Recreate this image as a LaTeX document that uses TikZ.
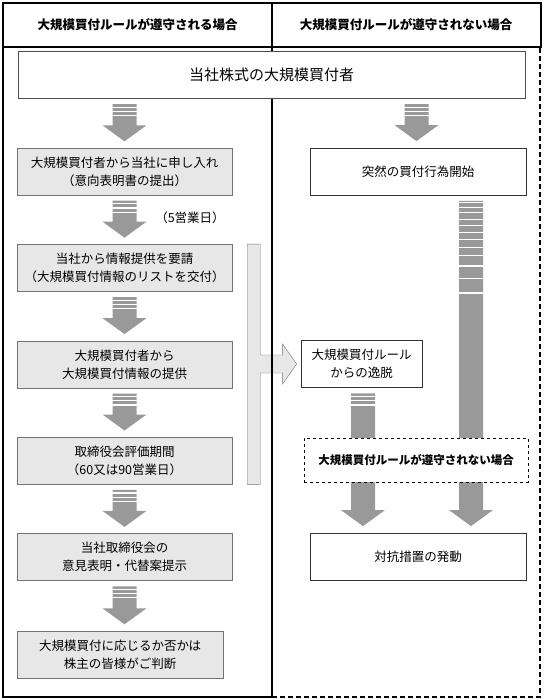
\documentclass[tikz,border=0pt]{standalone}
\usepackage{fontspec}
\setmainfont{Noto Sans CJK JP}
\usetikzlibrary{positioning,calc}

\definecolor{arrowgray}{RGB}{153,153,153}
\definecolor{boxgray}{RGB}{231,231,231}
\definecolor{linegray}{RGB}{115,115,115}

\pgfdeclarelayer{background}
\pgfsetlayers{background,main}

% striped block arrow: [xshift]{from}{to}{stripe offsets}
\newcommand{\fatarrow}[4][0]{%
  \coordinate (fa top) at ($(#3.north |- #2.south)+(#1pt,-5.5pt)$);
  \coordinate (fa tip) at ($(#3.north)+(#1pt,6.5pt)$);
  \fill[arrowgray] let \p1=(fa top), \p2=(fa tip) in
    (\x1-12pt,\y1) -- (\x1+12pt,\y1) -- (\x1+12pt,\y2+16pt) -- (\x1+22pt,\y2+16pt)
    -- (\p2) -- (\x1-22pt,\y2+16pt) -- (\x1-12pt,\y2+16pt) -- cycle;
  \foreach \s in {#4}
    \draw[white, line width=1.2pt] let \p1=(fa top) in
      (\x1-13pt,\y1-\s pt) -- (\x1+13pt,\y1-\s pt);
}

\begin{document}
\begin{tikzpicture}[x=1pt, y=-1pt,
    headcell/.style = {draw, line width=2pt, minimum width=269pt, minimum height=44pt,
      font=\fontsize{12.5}{15}\selectfont\bfseries},
    flowbox/.style = {draw=linegray, fill=boxgray, minimum width=215pt, minimum height=47pt,
      align=center, font=\fontsize{12.5}{18}\selectfont},
    outbox/.style = {draw=black!80, fill=white, thick, minimum height=47pt,
      align=center, font=\fontsize{12.5}{18}\selectfont},
    notbox/.style = {draw, dashed, fill=white, minimum width=224pt, minimum height=44pt,
      font=\fontsize{11.5}{14}\selectfont\bfseries},
    daynote/.style = {font=\fontsize{12.5}{15}\selectfont}
  ]
  \useasboundingbox (0,0) rectangle (543,700);

  % column headers
  \node[headcell] (head kept) at (137.5,25) {大規模買付ルールが遵守される場合};
  \node[headcell] (head broken) at (406,25) {大規模買付ルールが遵守されない場合};

  \node[draw=black!70, fill=white, minimum width=507pt, minimum height=47pt,
    font=\fontsize{15}{18}\selectfont] (title) at (271.5,75) {当社株式の大規模買付者};

  % rule kept
  \node[flowbox] (offer) at (124.5,171.5) {大規模買付者から当社に申し入れ\\（意向表明書の提出）};
  \node[flowbox, below=49pt of offer] (request) {当社から情報提供を要請\\（大規模買付情報のリストを交付）};
  \node[flowbox, below=49pt of request] (provide) {大規模買付者から\\大規模買付情報の提供};
  \node[flowbox, below=49pt of provide] (review) {取締役会評価期間\\（60又は90営業日）};
  \node[flowbox, below=49pt of review] (opinion) {当社取締役会の\\意見表明・代替案提示};
  \node[flowbox, minimum width=206pt, below=50pt of opinion.south west, anchor=north west]
    (decide) {大規模買付に応じるか否かは\\株主の皆様がご判断};
  \node[daynote] (days) at (190,218) {（5営業日）};

  % rule broken
  \node[outbox, minimum width=216pt] (sudden) at (418,171.5) {突然の買付行為開始};
  \node[outbox, minimum width=121pt] (dev) at (361.5,364) {大規模買付ルール\\からの逸脱};
  \node[outbox, minimum width=216pt] (counter) at (418,556.5) {対抗措置の発動};

  \fatarrow{title}{offer}{3,7.3,11.5}
  \fatarrow{offer}{request}{3,7.3,11.5}
  \fatarrow{request}{provide}{3,7.3,11.5}
  \fatarrow{provide}{review}{3,7.3,11.5}
  \fatarrow{review}{opinion}{3,7.3,11.5}
  \fatarrow[4.5]{opinion}{decide}{3,7.3,11.5}
  \fatarrow[-1.5]{title}{sudden}{3,7.3,11.5}
  \fatarrow[53]{sudden}{counter}{2,6.7,12,18.3,25,31.7,38.7,46.3,54.7,65,77.3,92}
  \fatarrow[-55]{dev}{counter}{3,7.3,11.5}

  \node[notbox] (notkept) at (416,460) {大規模買付ルールが遵守されない場合};

  \begin{pgfonlayer}{background}
    % branch out of the procedure
    \draw[linegray, fill=boxgray] let \p1=(request.north east), \p2=(review.south east), \p3=(dev.west) in
      (\x1+15pt,\y1) -- (\x1+28pt,\y1) -- (\x1+28pt,\y3+9pt) -- (\x3-18pt,\y3+9pt)
      -- (\x3-18pt,\y3+20pt) -- (\x3-4pt,\y3) -- (\x3-18pt,\y3-20pt) -- (\x3-18pt,\y3-9pt)
      -- (\x1+28pt,\y3-9pt) -- (\x1+28pt,\y2) -- (\x1+15pt,\y2) -- cycle;
    % column frames
    \draw[line width=2pt] (3,47) rectangle (272,697);
    \draw[line width=1.5pt, dash pattern=on 5pt off 3pt] (272,697) -- (540,697) -- (540,47);
  \end{pgfonlayer}
\end{tikzpicture}
\end{document}
